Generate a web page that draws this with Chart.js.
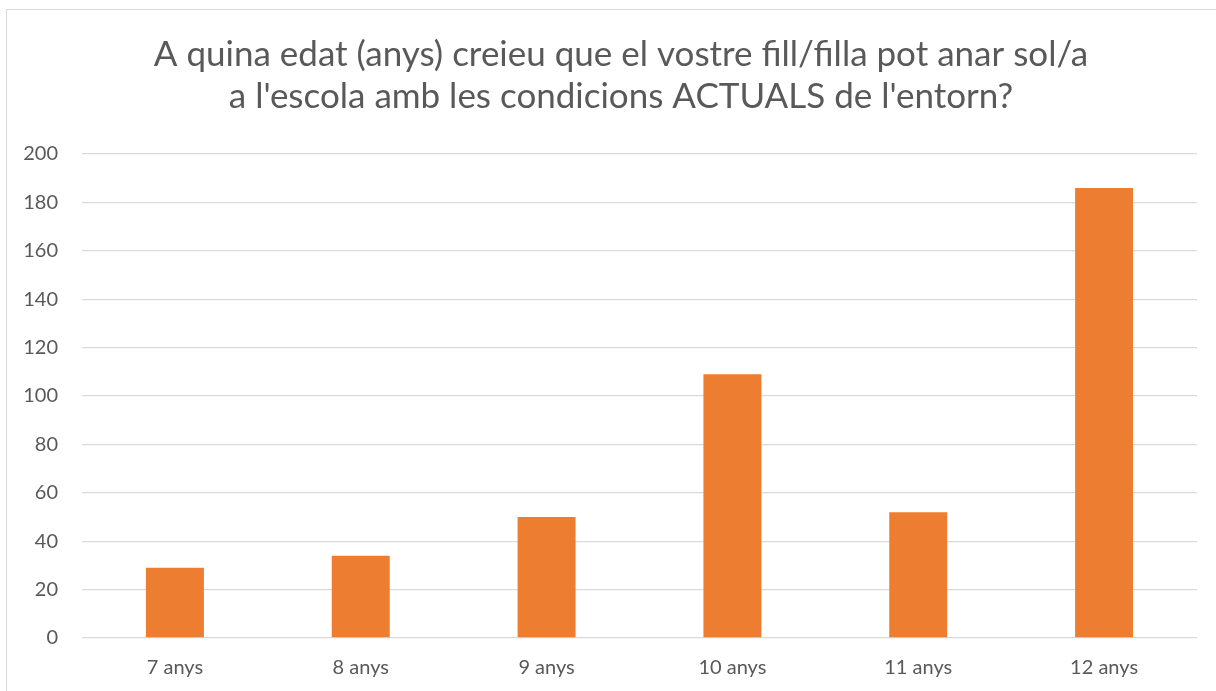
<!DOCTYPE html>
<html>
<head>
<meta charset="utf-8">
<script src="https://cdn.jsdelivr.net/npm/chart.js@4"></script>
<style>
  html, body { margin: 0; padding: 0; background: #fff; overflow: hidden; }
  #frame { position: absolute; left: 6px; top: 9px; width: 1229px; height: 700px; border: 1px solid #d9d9d9; }
  #wrap { position: absolute; left: 0; top: 0; width: 1209px; height: 681px; }
</style>
</head>
<body>
<div id="frame"><div id="wrap"><canvas id="chart"></canvas></div></div>
<script>
const titleLines = ["A quina edat (anys) creieu que el vostre fill/filla pot anar sol/a",
                    "a l'escola amb les condicions ACTUALS de l'entorn?"];
const categories = ["7 anys", "8 anys", "9 anys", "10 anys", "11 anys", "12 anys"];
const values = [29, 34, 50, 109, 52, 186];
const yMax = 200;
const yStep = 20;

const grey = '#595959';
const font = "Lato, 'Open Sans', sans-serif";

// the frame runs past the right edge of the window, so centre the title on the frame
const centreTitle = {
  id: 'centreTitle',
  afterLayout(chart) {
    if (chart.titleBlock) {
      chart.titleBlock.left = 0;
      chart.titleBlock.right = 1228;
    }
  }
};

const ctx = document.getElementById('chart').getContext('2d');
new Chart(ctx, {
  type: 'bar',
  data: {
    labels: categories,
    datasets: [{
      data: values,
      backgroundColor: '#ED7D31',
      borderWidth: 0,
      barPercentage: 0.52,
      categoryPercentage: 0.6
    }]
  },
  options: {
    responsive: true,
    maintainAspectRatio: false,
    animation: false,
    layout: { padding: { left: 0, right: 19, top: 0, bottom: 0 } },
    plugins: {
      legend: { display: false },
      tooltip: { enabled: false },
      title: {
        display: true,
        text: titleLines,
        color: grey,
        font: { family: font, size: 35, weight: 'normal', lineHeight: 1.2 },
        padding: { top: 24, bottom: 36 }
      }
    },
    scales: {
      x: {
        grid: { display: false, drawTicks: false },
        border: { display: false },
        ticks: { color: grey, font: { family: font, size: 20 }, padding: 18 },
        afterFit: s => { s.height = 53; }
      },
      y: {
        min: 0,
        max: yMax,
        ticks: { stepSize: yStep, color: grey, font: { family: font, size: 20 }, padding: 24 },
        grid: { color: '#d9d9d9', lineWidth: 1.3, drawTicks: false },
        border: { display: false },
        afterFit: s => { s.width = 75; }
      }
    }
  },
  plugins: [centreTitle]
});
</script>
</body>
</html>
